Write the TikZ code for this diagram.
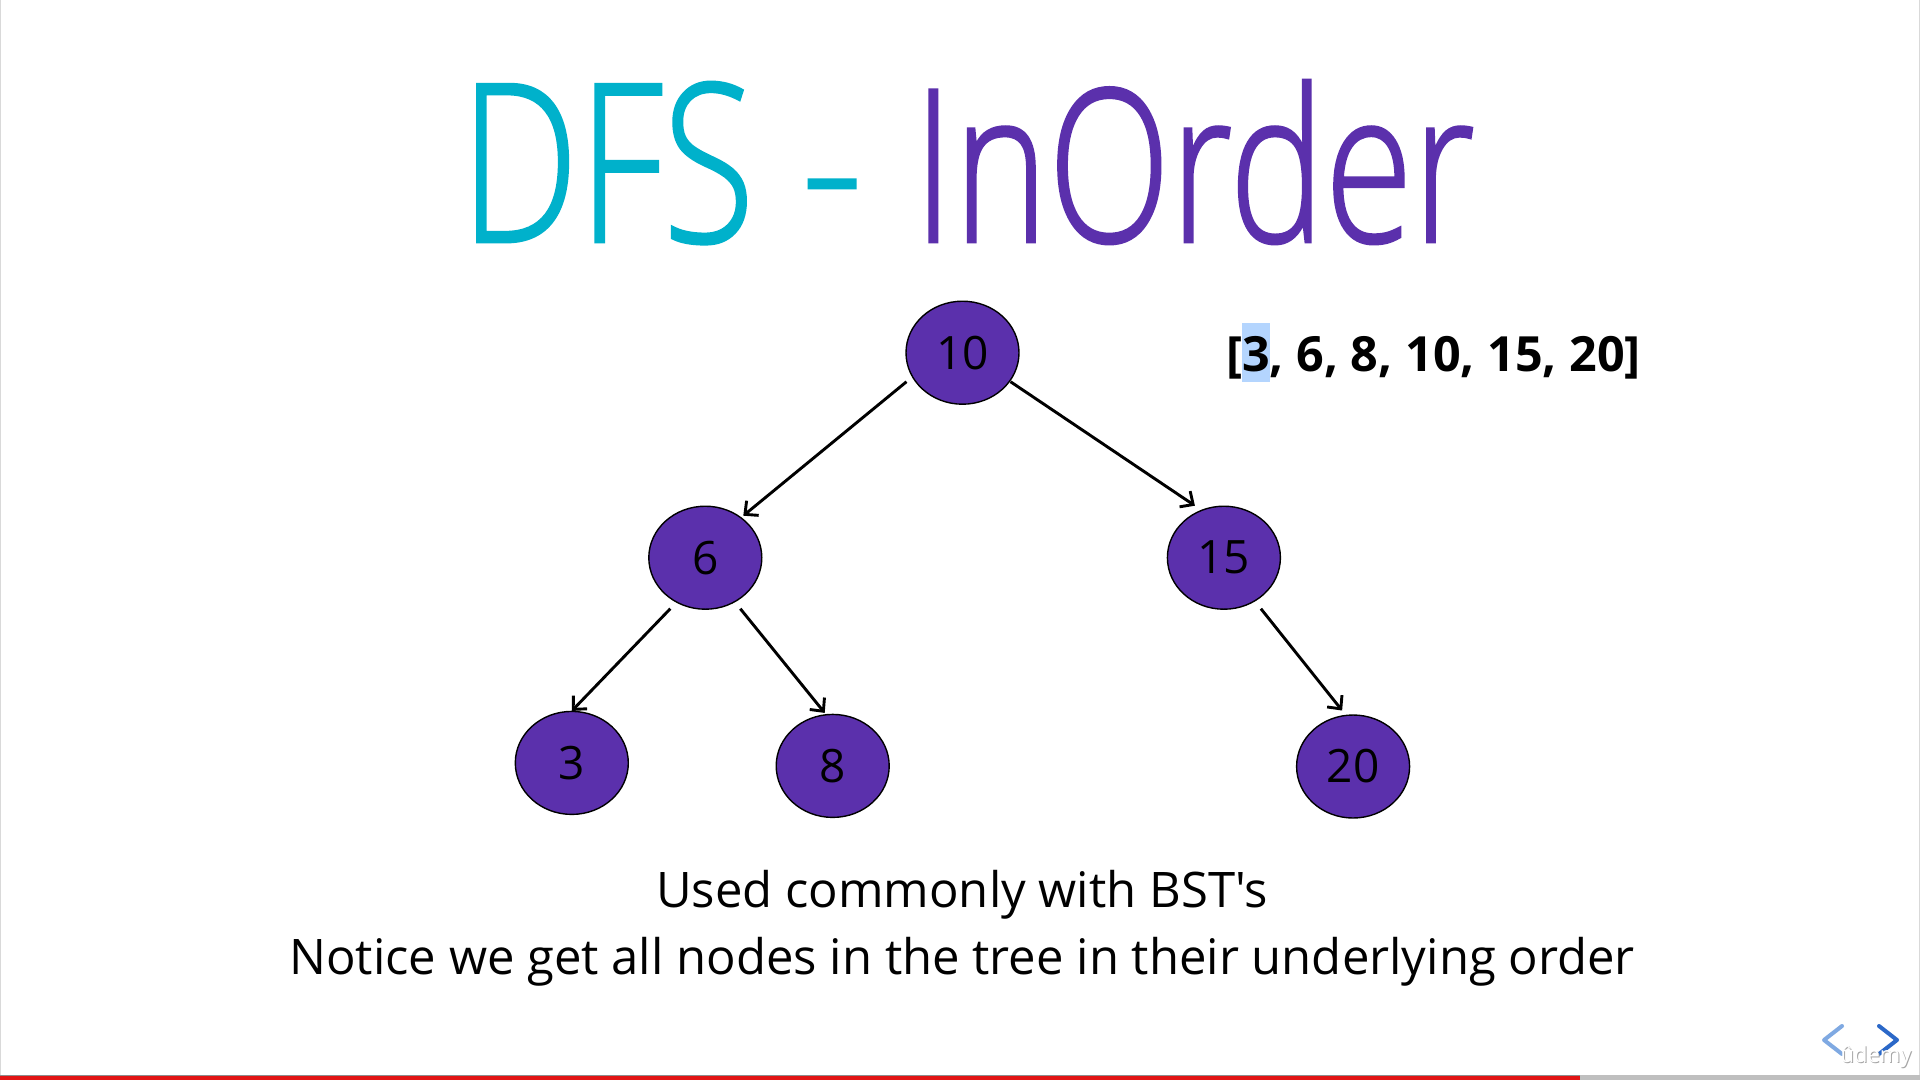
\documentclass[tikz,border=0pt]{standalone}
\usepackage{fontspec}
\usepackage{graphicx}
\usetikzlibrary{arrows.meta,shapes.geometric}
\newfontfamily\bodyfont{Open Sans}
\IfFontExistsTF{Open Sans Light}
  {\newfontfamily\titlefont{Open Sans Light}[FakeBold=1.3]}
  {\newfontfamily\titlefont{Carlito}}
\definecolor{titlecyan}{HTML}{00B1CB}
\definecolor{deeppurple}{HTML}{5B30AC}
\definecolor{selblue}{HTML}{B4D5FE}
\definecolor{navlight}{HTML}{7FA9E2}
\definecolor{navdark}{HTML}{2B68C8}
\definecolor{barred}{HTML}{E21414}
\tikzset{
  treenode/.style={ellipse, draw=black, line width=1.4pt, fill=deeppurple,
    minimum width=113pt, minimum height=103pt, inner sep=0pt,
    font=\bodyfont\fontsize{46}{46}\selectfont, text=black},
  edge/.style={line width=2.9pt, draw=black,
    -{Straight Barb[length=10pt,width=19pt,line width=2.9pt]}},
  caption/.style={anchor=base, inner sep=0pt,
    font=\bodyfont\fontsize{49}{49}\selectfont, text=black},
  nav/.style={line width=4pt, line cap=round, line join=round}
}
\begin{document}
\begin{tikzpicture}[x=1pt,y=-1pt]
\useasboundingbox (0,0) rectangle (1920,1080);
\fill[white] (0,0) rectangle (1920,1080);
\draw[black!15, line width=1pt] (0.5,0) -- (0.5,1080) (1919.5,0) -- (1919.5,1080);

% title
\node[anchor=base west, inner sep=0pt, text=titlecyan] (tdfs) at (460,242)
  {\resizebox{294pt}{160pt}{\titlefont\fontsize{100}{100}\selectfont DFS}};
\node[anchor=base, inner sep=0pt, text=titlecyan] (thyph) at (832,240)
  {\scalebox{1.25}[1.3]{\titlefont\fontsize{160}{160}\selectfont -}};
\node[anchor=base west, inner sep=0pt, text=deeppurple] (tinorder) at (913,242)
  {\resizebox{562pt}{162pt}{\titlefont\fontsize{100}{100}\selectfont InOrder}};

% traversal result, first entry selected
\fill[selblue] (1242,323) rectangle (1270,382);
\node[anchor=base west, inner sep=0pt,
  font=\bodyfont\bfseries\fontsize{48.5}{48.5}\selectfont] (result) at (1226,371)
  {[3, 6, 8, 10, 15, 20]};

% tree
\node[treenode] (n10) at (962.5,352.7) {10};
\node[treenode] (n6)  at (705.3,557.7) {6};
\node[treenode] (n15) at (1223.9,557.7) {15};
\node[treenode] (n3)  at (571.8,762.9) {3};
\node[treenode] (n8)  at (832.7,765.9) {8};
\node[treenode] (n20) at (1353.1,766.5) {20};

\draw[edge] ([shift={(-56,29)}]n10.center) -- ([shift={(38,-42)}]n6.center);
\draw[edge] ([shift={(48,29)}]n10.center) -- ([shift={(-29,-52)}]n15.center);
\draw[edge] ([shift={(-35,51)}]n6.center) -- ([shift={(0,-52)}]n3.center);
\draw[edge] ([shift={(35,51)}]n6.center) -- ([shift={(-8,-53)}]n8.center);
\draw[edge] ([shift={(37,51)}]n15.center) -- ([shift={(-11,-56)}]n20.center);

% captions
\node[caption] (cap1) at (962,907) {Used commonly with BST's};
\node[caption] (cap2) at (962,974) {Notice we get all nodes in the tree in their underlying order};

% player controls
\draw[nav, navlight] (1842,1026) -- (1824,1040) -- (1842,1054);
\draw[nav, navdark] (1879,1026) -- (1897,1040) -- (1879,1054);
\node[text=black!35, inner sep=0pt, font=\bodyfont\fontsize{22}{22}\selectfont] (logoshadow) at (1877,1058) {ûdemy};
\node[text=white, inner sep=0pt, font=\bodyfont\fontsize{22}{22}\selectfont] (logo) at (1876,1057) {ûdemy};

% progress bar
\fill[black!25] (1580,1075) rectangle (1920,1080);
\fill[barred] (0,1076) rectangle (1580,1080);
\draw[black!45, line width=0.8pt] (0,1075.4) -- (1580,1075.4);
\end{tikzpicture}
\end{document}
